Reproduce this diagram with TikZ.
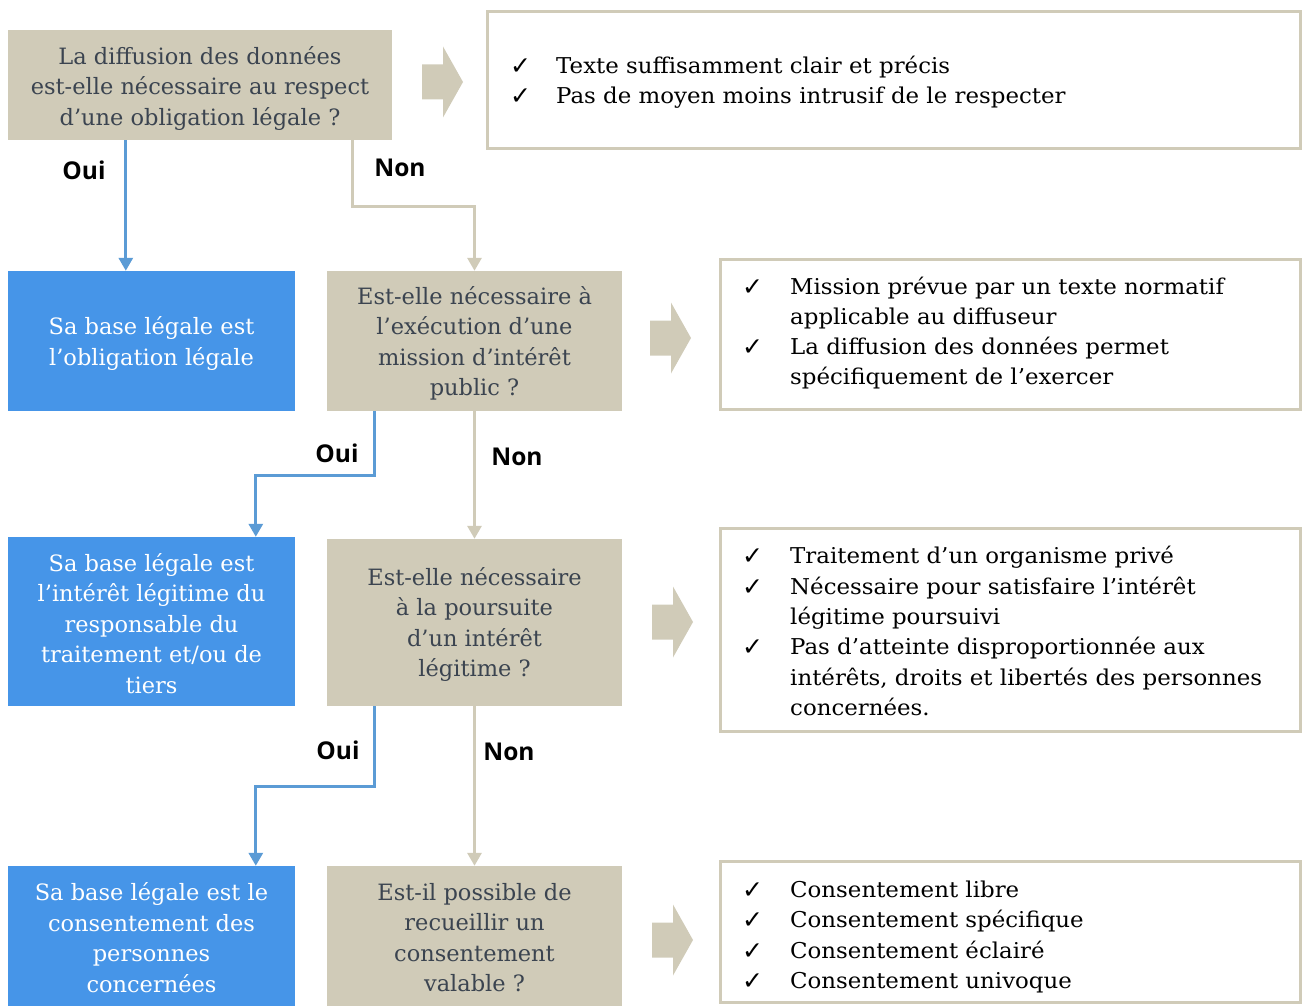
\documentclass[tikz,border=0pt]{standalone}
\usepackage{fontspec}
\setmainfont{DejaVu Serif}
\newfontfamily\lfont{DejaVu Serif}
\newfontfamily\rfont[FakeStretch=1.05]{DejaVu Serif}
\newfontfamily\labfont{Open Sans}
\newfontfamily\symfont{DejaVu Sans}
\usetikzlibrary{arrows.meta}
\definecolor{tan}{HTML}{D0CBB8}
\definecolor{bluebox}{HTML}{4695E8}
\definecolor{blueline}{HTML}{5B9BD5}
\definecolor{qtext}{HTML}{3B4450}
\newcommand\chk{\makebox[48pt][l]{\raisebox{-1pt}{\symfont\fontsize{25}{30}\selectfont ✓}}}
\newcommand\chkA{\makebox[46pt][l]{\raisebox{-1pt}{\symfont\fontsize{25}{30}\selectfont ✓}}}
\newcommand\ind{\hspace*{48pt}}
\newcommand\blockarrow[3]{\fill[tan] (#1,#2) ++(0,-17.5) -- ++(21,0) -- ++(0,-18) -- ++(20,35.5) -- ++(-20,35.5) -- ++(0,-18) -- ++(-21,0) -- cycle coordinate (#3) at (#1,#2);}
\tikzset{
  qbox/.style={fill=tan, inner sep=0pt},
  bbox/.style={fill=bluebox, inner sep=0pt},
  qtxt/.style={text=qtext, align=center, inner sep=0pt,
    font=\lfont\fontsize{22.5}{30.5}\selectfont},
  btxt/.style={text=white, align=center, inner sep=0pt,
    font=\lfont\fontsize{22.5}{30.5}\selectfont},
  rbox/.style={draw=tan, line width=3pt, fill=white, inner sep=0pt},
  rtext/.style={align=left, anchor=west, inner sep=0pt, text=black,
    font=\rfont\fontsize{21.8}{30.3}\selectfont},
  yes/.style={draw=blueline, line width=3pt, -{Triangle[width=14pt,length=13pt]}},
  no/.style={draw=tan, line width=3pt, -{Triangle[width=14pt,length=13pt]}},
  lab/.style={inner sep=0pt, font=\labfont\bfseries\fontsize{24.5}{28}\selectfont}
}
\begin{document}
\begin{tikzpicture}[x=1pt,y=-1pt]
\useasboundingbox (0,0) rectangle (1304,1006);

% left column boxes
\node[qbox, minimum width=384pt, minimum height=110pt] (Q1) at (200,85) {};
\node[bbox, minimum width=287pt, minimum height=140pt] (B1) at (151.5,341) {};
\node[qbox, minimum width=295pt, minimum height=140pt] (Q2) at (474.5,341) {};
\node[bbox, minimum width=287pt, minimum height=169pt] (B2) at (151.5,621.5) {};
\node[qbox, minimum width=295pt, minimum height=167pt] (Q3) at (474.5,622.5) {};
\node[bbox, minimum width=287pt, minimum height=140pt] (B3) at (151.5,936) {};
\node[qbox, minimum width=295pt, minimum height=140pt] (Q4) at (474.5,936) {};

% left column texts
\node[qtxt] (Q1t) at ([yshift=-3.5pt]Q1.center)
  {La diffusion des données\\est-elle nécessaire au respect\\d’une obligation légale ?};
\node[btxt] (B1t) at ([yshift=-2.5pt]B1.center)
  {Sa base légale est\\l’obligation légale};
\node[qtxt] (Q2t) at ([yshift=-2.5pt]Q2.center)
  {Est-elle nécessaire à\\l’exécution d’une\\mission d’intérêt\\public ?};
\node[btxt] (B2t) at ([yshift=-2pt]B2.center)
  {Sa base légale est\\l’intérêt légitime du\\responsable du\\traitement et/ou de\\tiers};
\node[qtxt] (Q3t) at ([yshift=-2pt]Q3.center)
  {Est-elle nécessaire\\à la poursuite\\d’un intérêt\\légitime ?};
\node[btxt] (B3t) at ([yshift=-1.5pt]B3.center)
  {Sa base légale est le\\consentement des\\personnes\\concernées};
\node[qtxt] (Q4t) at ([yshift=-1.5pt]Q4.center)
  {Est-il possible de\\recueillir un\\consentement\\valable ?};

% right boxes
\node[rbox, minimum width=813pt, minimum height=137pt] (R1) at (893.5,80) {};
\node[rbox, minimum width=580pt, minimum height=150pt] (R2) at (1010.5,334.5) {};
\node[rbox, minimum width=580pt, minimum height=203pt] (R3) at (1010.5,630) {};
\node[rbox, minimum width=580pt, minimum height=141pt] (R4) at (1010.5,932) {};

\node[rtext] (T1) at (510,82)
  {\chkA Texte suffisamment clair et précis\\
   \chkA Pas de moyen moins intrusif de le respecter};
\node[rtext] (T2) at (742,333)
  {\chk Mission prévue par un texte normatif\\
   \ind applicable au diffuseur\\
   \chk La diffusion des données permet\\
   \ind spécifiquement de l’exercer};
\node[rtext] (T3) at (742,631)
  {\chk Traitement d’un organisme privé\\
   \chk Nécessaire pour satisfaire l’intérêt\\
   \ind légitime poursuivi\\
   \chk Pas d’atteinte disproportionnée aux\\
   \ind intérêts, droits et libertés des personnes\\
   \ind concernées.};
\node[rtext] (T4) at (742,937)
  {\chk Consentement libre\\
   \chk Consentement spécifique\\
   \chk Consentement éclairé\\
   \chk Consentement univoque};

% block arrows
\blockarrow{422}{82}{A1}
\blockarrow{650}{338}{A2}
\blockarrow{652}{622}{A3}
\blockarrow{652}{940}{A4}

% connectors
\draw[yes] ([xshift=118pt]Q1.south west) -- ([xshift=118pt]B1.north west);
\draw[no] ([xshift=345pt]Q1.south west) -- ++(0,66) -| (Q2.north);
\draw[yes] ([xshift=48pt]Q2.south west) -- ++(0,64) -| ([xshift=248pt]B2.north west);
\draw[no] (Q2.south) -- (Q3.north);
\draw[yes] ([xshift=48pt]Q3.south west) -- ++(0,80) -| ([xshift=248pt]B3.north west);
\draw[no] (Q3.south) -- (Q4.north);

% labels
\node[lab] (L1) at (84,170) {Oui};
\node[lab] (L2) at (400,168) {Non};
\node[lab] (L3) at (337,453) {Oui};
\node[lab] (L4) at (517,457) {Non};
\node[lab] (L5) at (338,750) {Oui};
\node[lab] (L6) at (509,752) {Non};
\end{tikzpicture}
\end{document}
